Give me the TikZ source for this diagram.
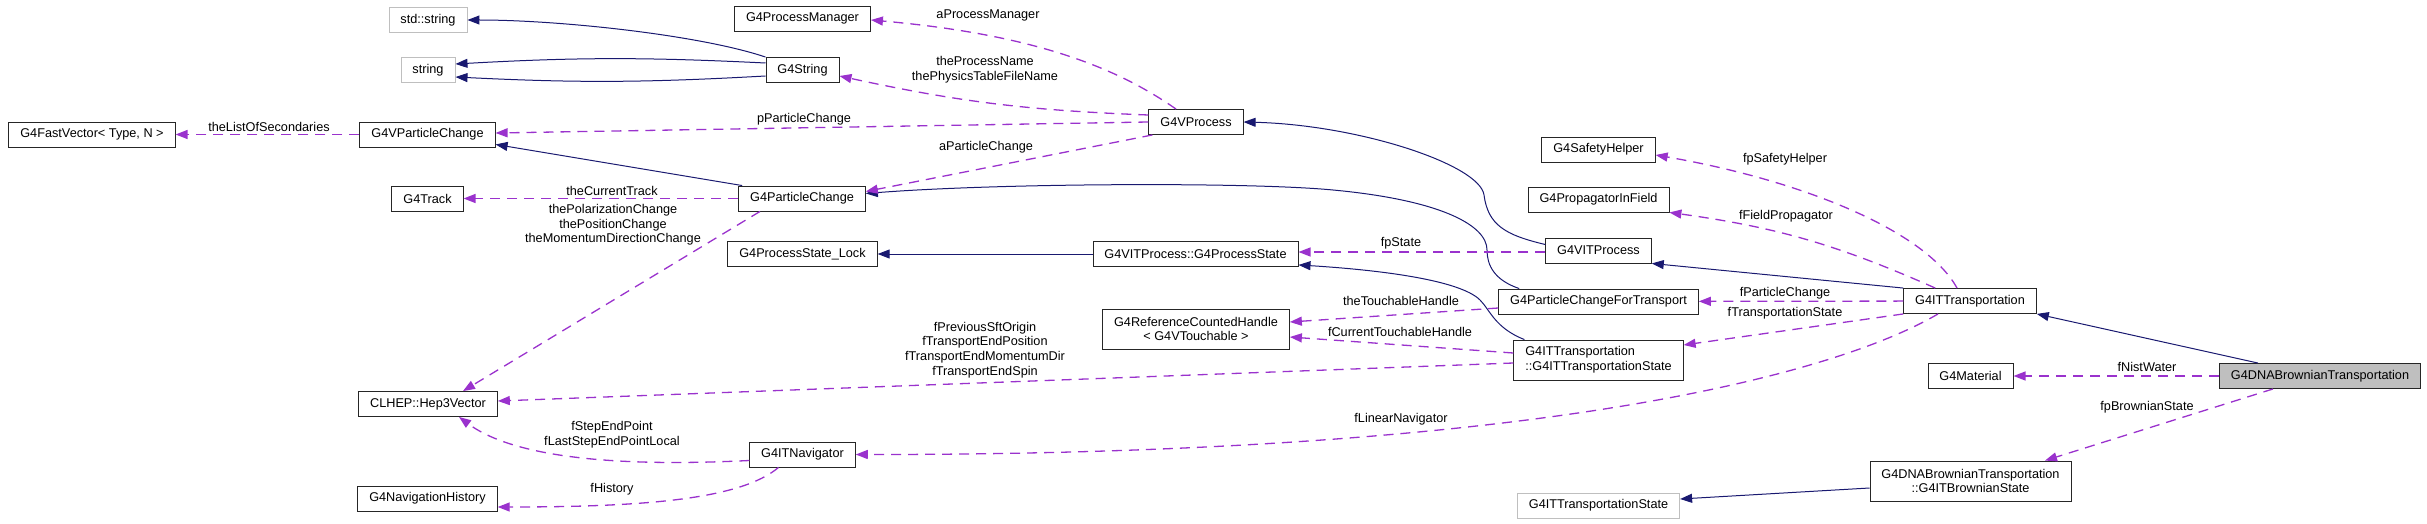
\documentclass[tikz,border=0pt]{standalone}
\usepackage{fontspec}
\setmainfont{Liberation Sans}
\usetikzlibrary{positioning,arrows.meta}

\definecolor{inhblue}{HTML}{191970}
\definecolor{usepurple}{HTML}{9A32CD}
\definecolor{boxgray}{HTML}{BFBFBF}

\begin{document}
\begin{tikzpicture}[
  x=1pt, y=-1pt,
  font=\fontsize{12.7}{14.7}\selectfont,
  cls/.style={rectangle, draw=black!85, line width=0.9pt, fill=white,
    inner xsep=11.5pt, inner ysep=2pt, minimum height=25pt, align=center},
  ext/.style={cls, draw=boxgray},
  root/.style={cls, fill=boxgray},
  twoline/.style={minimum height=40pt},
  lbl/.style={inner sep=0pt, align=center},
  inherit/.style={draw=inhblue, line width=1pt,
    -{Triangle[length=12pt, width=9pt]}},
  member/.style={draw=usepurple, line width=1.3pt, dash pattern=on 10pt off 7pt,
    -{Triangle[length=12pt, width=9pt]}}
]
\useasboundingbox (0,0) rectangle (2427,524);

% classes
\node[ext] (stdstr)  at (428,20)    {std::string};
\node[ext] (str)     at (428,70)    {string};
\node[cls] (fastvec) at (92,134.5)  {G4FastVector< Type, N >};
\node[cls] (vpc)     at (427.5,134.5) {G4VParticleChange};
\node[cls] (track)   at (427.5,198.5) {G4Track};
\node[cls] (hep)     at (428,404)   {CLHEP::Hep3Vector};
\node[cls] (navhist) at (427.5,498.5) {G4NavigationHistory};
\node[cls] (procman) at (802.5,18.5) {G4ProcessManager};
\node[cls] (g4str)   at (802.5,70)  {G4String};
\node[cls] (pc)      at (802,198.5) {G4ParticleChange};
\node[cls] (lock)    at (802.5,254) {G4ProcessState\_Lock};
\node[cls] (nav)     at (802.5,454.5) {G4ITNavigator};
\node[cls] (vproc)   at (1196,122)  {G4VProcess};
\node[cls] (pstate)  at (1195.5,254) {G4VITProcess::G4ProcessState};
\node[cls, twoline] (rch) at (1196,329) {G4ReferenceCountedHandle\\< G4VTouchable >};
\node[cls] (safety)  at (1598.5,149.5) {G4SafetyHelper};
\node[cls] (prop)    at (1598.5,199.5) {G4PropagatorInField};
\node[cls] (vitproc) at (1598.5,250.5) {G4VITProcess};
\node[cls] (pcft)    at (1598.5,301.5) {G4ParticleChangeForTransport};
\node[cls, twoline, align=left] (itstate) at (1598.5,360) {G4ITTransportation\\::G4ITTransportationState};
\node[ext] (ittsgray) at (1598.5,505.5) {G4ITTransportationState};
\node[cls] (itt)     at (1970,301)  {G4ITTransportation};
\node[cls] (mat)     at (1970.5,376) {G4Material};
\node[cls, twoline] (brst) at (1970.5,481) {G4DNABrownianTransportation\\::G4ITBrownianState};
\node[root] (main)   at (2320,376)  {G4DNABrownianTransportation};

% inheritance
\draw[inherit] (g4str.north west) .. controls (700,35) and (560,20) .. (stdstr.east);
\draw[inherit] ([yshift=7pt]g4str.west) to[bend right=3] ([yshift=6pt]str.east);
\draw[inherit] ([yshift=-6pt]g4str.west) to[bend left=3] ([yshift=-7pt]str.east);
\draw[inherit] ([xshift=4pt]pc.north west) -- ([yshift=3pt]vpc.south east);
\draw[inherit] ([xshift=21pt]pcft.north west) .. controls (1494,280) and (1487,265) .. (1487,250)
  .. controls (1487,225) and (1440,200) .. (1333,190)
  .. controls (1250,182) and (1000,183) .. ([yshift=5pt]pc.east);
\draw[inherit] ([yshift=6pt]vitproc.west) .. controls (1505,235) and (1488,225) .. (1484,195)
  .. controls (1480,165) and (1360,125) .. (vproc.east);
\draw[inherit] ([xshift=11pt]itstate.north west) .. controls (1495,328) and (1490,310) .. (1480,300)
  .. controls (1460,280) and (1380,270) .. ([yshift=2pt]pstate.south east);
\draw[inherit] (pstate) -- (lock);
\draw[inherit] (itt.north west) -- (vitproc.south east);
\draw[inherit] ([xshift=39pt]main.north west) -- (itt.south east);
\draw[inherit] ([yshift=-7pt]brst.west) -- ([yshift=6.5pt]ittsgray.east);

% members
\draw[member] (vpc) -- (fastvec);
\draw[member] ([xshift=-20pt]vproc.north) .. controls (1120,70) and (1040,35) .. ([yshift=-1.5pt]procman.east);
\draw[member] ([yshift=7pt]vproc.west) to[bend left=5] ([yshift=-6pt]g4str.east);
\draw[member] (vproc.west) -- ([yshift=1.5pt]vpc.east);
\draw[member] ([xshift=4pt]vproc.south west) -- ([yshift=7pt]pc.east);
\draw[member] (pc) -- (track);
\draw[member] ([xshift=-42pt]pc.south) -- ([xshift=35pt]hep.north);
\draw[member] ([yshift=-3pt]itstate.west) -- ([yshift=3pt]hep.east);
\draw[member] ([yshift=-6pt]nav.west) .. controls (640,466) and (520,462) .. ([xshift=31pt]hep.south);
\draw[member] ([xshift=-24pt]nav.south) .. controls (740,500) and (640,507) .. ([yshift=-8.5pt]navhist.east);
\draw[member] ([yshift=-1.5pt]vitproc.west) -- ([yshift=2pt]pstate.east);
\draw[member] ([yshift=-6.5pt]pcft.west) -- ([yshift=7pt]rch.east);
\draw[member] ([yshift=7pt]itstate.west) -- ([yshift=-8pt]rch.east);
\draw[member] ([xshift=-13pt]itt.north) .. controls (1925,230) and (1800,180) .. ([yshift=-5.5pt]safety.east);
\draw[member] ([xshift=32pt]itt.north west) to[bend right=8] (prop.south east);
\draw[member] (itt) -- (pcft);
\draw[member] (itt.south west) -- ([yshift=15pt]itstate.east);
\draw[member] ([xshift=-32pt]itt.south) .. controls (1860,360) and (1600,455) .. (nav.east);
\draw[member] (main) -- (mat);
\draw[member] ([xshift=54pt]main.south west) -- ([xshift=74.5pt]brst.north);

% edge labels
\node[lbl] (lblsec)   at (269,127)  {theListOfSecondaries};
\node[lbl] (lblmgr)   at (988,15)   {aProcessManager};
\node[lbl] (lblname)  at (985,70)   {theProcessName\\thePhysicsTableFileName};
\node[lbl] (lblppc)   at (804,119)  {pParticleChange};
\node[lbl] (lblapc)   at (986,147)  {aParticleChange};
\node[lbl] (lbltrack) at (612,191)  {theCurrentTrack};
\node[lbl] (lblchg)   at (613,225)  {thePolarizationChange\\thePositionChange\\theMomentumDirectionChange};
\node[lbl] (lblend)   at (985,350)  {fPreviousSftOrigin\\fTransportEndPosition\\fTransportEndMomentumDir\\fTransportEndSpin};
\node[lbl] (lblstep)  at (612,435)  {fStepEndPoint\\fLastStepEndPointLocal};
\node[lbl] (lblhist)  at (612,489)  {fHistory};
\node[lbl] (lblstate) at (1401,243) {fpState};
\node[lbl] (lbltouch) at (1401,301) {theTouchableHandle};
\node[lbl] (lblcur)   at (1400,332) {fCurrentTouchableHandle};
\node[lbl] (lblsafe)  at (1785,159) {fpSafetyHelper};
\node[lbl] (lblfield) at (1786,216) {fFieldPropagator};
\node[lbl] (lblpchg)  at (1785,293) {fParticleChange};
\node[lbl] (lbltstat) at (1785,313) {fTransportationState};
\node[lbl] (lbllin)   at (1401,419) {fLinearNavigator};
\node[lbl] (lblwater) at (2147,367) {fNistWater};
\node[lbl] (lblbrown) at (2147,407) {fpBrownianState};
\end{tikzpicture}
\end{document}
